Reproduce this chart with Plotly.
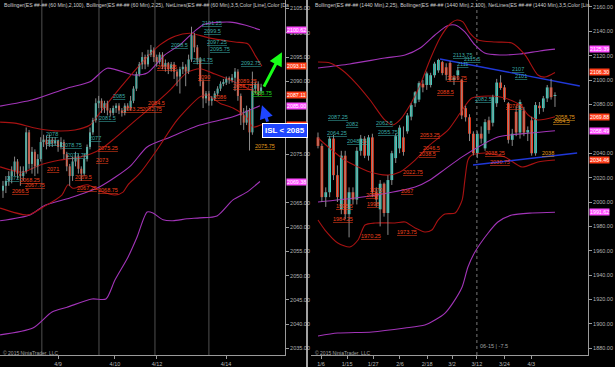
import plotly.graph_objects as go

# ---------------- LEFT PANEL: ES 60 min ----------------
L_open = [2067.5, 2068.5, 2069.5, 2070.5, 2071.5, 2073.5, 2071.0, 2070.5, 2071.5, 2079.5,
          2073.0, 2075.5, 2072.5, 2074.0, 2077.5, 2078.0, 2077.0, 2078.0, 2077.25, 2077.75,
          2076.5, 2077.5, 2075.0, 2072.5, 2070.5, 2073.5, 2074.5, 2072.0, 2071.0, 2074.0,
          2076.5, 2079.5, 2082.0, 2085.5, 2086.0, 2084.5, 2085.5, 2084.0, 2083.5, 2084.5,
          2085.0, 2084.0, 2083.5, 2085.0, 2084.5, 2086.0, 2088.5, 2091.5, 2093.5, 2095.0,
          2093.5, 2095.5, 2096.5, 2095.0, 2094.0, 2095.5, 2093.0, 2093.75, 2092.5, 2093.5,
          2092.0, 2091.0, 2092.5, 2093.0, 2092.0, 2094.5, 2099.5, 2097.0, 2094.5, 2090.0,
          2086.5, 2087.5, 2086.0, 2086.5, 2087.5, 2088.5, 2089.5, 2089.75, 2090.5, 2090.25,
          2090.75, 2092.0, 2087.0, 2083.0, 2081.5, 2084.0, 2079.5, 2088.5, 2089.5, 2088.0]
L_high = [2069.5, 2070.5, 2071.5, 2072.5, 2074.5, 2074.0, 2072.5, 2072.5, 2080.5, 2080.0,
          2076.5, 2076.0, 2075.0, 2078.5, 2079.0, 2078.75, 2079.0, 2078.5, 2078.5, 2078.0,
          2078.5, 2078.0, 2075.5, 2073.0, 2074.5, 2075.5, 2075.0, 2072.5, 2075.0, 2077.0,
          2080.5, 2082.5, 2086.5, 2087.0, 2086.5, 2086.0, 2086.0, 2084.5, 2085.0, 2085.5,
          2085.5, 2084.5, 2085.5, 2085.5, 2087.0, 2089.0, 2092.0, 2094.0, 2096.0, 2095.5,
          2096.5, 2097.5, 2097.0, 2095.5, 2096.0, 2096.0, 2094.5, 2094.0, 2094.0, 2094.0,
          2092.5, 2093.0, 2094.0, 2093.5, 2095.5, 2101.25, 2100.0, 2097.5, 2095.0, 2090.5,
          2088.0, 2088.0, 2087.0, 2088.0, 2089.0, 2090.0, 2090.5, 2091.0, 2091.0, 2091.5,
          2092.75, 2092.5, 2087.5, 2084.5, 2085.0, 2084.5, 2092.0, 2090.0, 2090.0, 2089.5]
L_low = [2066.0, 2067.0, 2068.5, 2069.0, 2070.5, 2070.0, 2068.5, 2069.5, 2071.0, 2072.0,
         2071.0, 2070.5, 2071.0, 2073.5, 2076.5, 2076.0, 2076.5, 2076.5, 2076.75, 2075.5,
         2076.0, 2074.0, 2071.5, 2068.5, 2069.5, 2072.5, 2071.0, 2069.5, 2070.5, 2073.5,
         2076.0, 2079.0, 2081.5, 2084.5, 2083.5, 2083.5, 2083.0, 2082.75, 2083.0, 2083.5,
         2083.25, 2082.75, 2083.0, 2084.0, 2084.0, 2085.5, 2088.0, 2091.0, 2092.5, 2092.5,
         2093.0, 2095.0, 2094.0, 2093.0, 2093.5, 2092.5, 2092.0, 2091.5, 2092.0, 2090.5,
         2089.0, 2087.5, 2091.5, 2089.0, 2091.5, 2094.0, 2096.0, 2093.5, 2089.0, 2084.5,
         2085.5, 2085.0, 2085.0, 2086.0, 2087.0, 2088.0, 2089.0, 2089.25, 2089.5, 2089.75,
         2088.0, 2086.0, 2081.0, 2080.0, 2081.0, 2075.75, 2079.0, 2087.5, 2087.0, 2087.5]
L_close = [2068.5, 2069.5, 2070.5, 2071.5, 2073.5, 2071.0, 2070.5, 2071.5, 2079.5, 2073.0,
           2075.5, 2072.5, 2074.0, 2077.5, 2078.0, 2077.0, 2078.0, 2077.25, 2077.75, 2076.5,
           2077.5, 2075.0, 2072.5, 2070.5, 2073.5, 2074.5, 2072.0, 2071.0, 2074.0, 2076.5,
           2079.5, 2082.0, 2085.5, 2086.0, 2084.5, 2085.5, 2084.0, 2083.5, 2084.5, 2085.0,
           2084.0, 2083.5, 2085.0, 2084.5, 2086.0, 2088.5, 2091.5, 2093.5, 2095.0, 2093.5,
           2095.5, 2096.5, 2095.0, 2094.0, 2095.5, 2093.0, 2093.75, 2092.5, 2093.5, 2092.0,
           2091.0, 2092.5, 2093.0, 2092.0, 2094.5, 2099.5, 2097.0, 2094.5, 2090.0, 2086.5,
           2087.5, 2086.0, 2086.5, 2087.5, 2088.5, 2089.5, 2089.75, 2090.5, 2090.25, 2090.75,
           2092.0, 2087.0, 2083.0, 2081.5, 2084.0, 2079.5, 2088.5, 2089.5, 2088.0, 2088.75]

L_tick_pos = [19, 38.6, 53.1, 76.9]
L_tick_text = ["4/9", "4/10", "4/12", "4/14"]
L_session_lines = [13.4, 33.1, 52.4, 71.0]
# tick levels whose labels are not hidden behind the price tags / ISL box
L_yticks = [2035, 2040, 2045, 2050, 2055, 2060, 2065, 2075, 2090, 2095, 2100, 2105]

# Bollinger (2,100) - purple
L_p_up_x = [-1, 10.3, 22.1, 30, 35.9, 45.2, 49.7, 55.9, 61, 66.2, 69.7, 78.3, 83.4, 88.6]
L_p_up_y = [2084.9, 2086.2, 2088.6, 2089.9, 2092.7, 2091.3, 2091.7, 2095.5, 2097.5, 2100.4, 2101.8, 2102.2, 2101.6, 2100.62]
L_p_mid_x = [-1, 9.3, 14.5, 23.1, 33.4, 43.8, 49.7, 57.6, 67.9, 79.3, 88.6]
L_p_mid_y = [2061.3, 2062.5, 2064.5, 2066.0, 2068.3, 2072.5, 2076.5, 2078.5, 2081.0, 2082.7, 2085.0]
L_p_lo_x = [-1, 10.3, 16.9, 22.1, 30.7, 35.5, 38.6, 43.1, 46.2, 49.7, 51.7, 55.2, 58.6, 63.4, 67.9, 73.8, 79.3, 84.1, 88.6]
L_p_lo_y = [2037.8, 2039.2, 2042.5, 2043.5, 2045.2, 2045.2, 2049.1, 2053.8, 2057.9, 2063.1, 2062.9, 2061.5, 2061.3, 2061.7, 2061.9, 2062.3, 2065.6, 2067.2, 2069.38]
# Bollinger (2,25) - dark red
L_r_up_x = [-1, 4.1, 11, 17.9, 24.8, 30, 33.4, 40.3, 47.2, 54.1, 59.3, 64.5, 71.4, 80, 84.5, 86.9, 89.3]
L_r_up_y = [2081.6, 2081.4, 2080.4, 2079.8, 2080.0, 2081.0, 2083.5, 2088.6, 2093.4, 2097.5, 2099.3, 2099.9, 2098.9, 2098.1, 2097.7, 2095.4, 2093.11]
L_r_mid_x = [-1, 6.9, 12.8, 19.7, 26.6, 33.4, 38.6, 43.8, 50.7, 57.6, 63.4, 67.9, 73.1, 79.3, 85.2, 89.3]
L_r_mid_y = [2072.4, 2071.3, 2072.8, 2073.8, 2074.4, 2075.9, 2078.3, 2081.0, 2084.5, 2088.2, 2091.8, 2092.6, 2091.5, 2090.0, 2088.3, 2087.11]
L_r_lo_x = [-1, 8.6, 13.8, 20.3, 22.4, 24.1, 29, 34.5, 38.6, 41.4, 43.1, 47.2, 53.1, 60, 67.9, 70.3, 74.8, 79.3, 84.1, 86.2, 89.3]
L_r_lo_y = [2063.9, 2062.5, 2064.1, 2066.6, 2068.7, 2068.0, 2068.7, 2067.2, 2066.6, 2067.2, 2068.7, 2071.1, 2075.9, 2082.0, 2086.8, 2087.2, 2085.5, 2084.5, 2082.5, 2080.6, 2081.11]

L_lbl_text = ["2101.25", "2099.5", "2097.25", "2095.75", "2098.5", "2094.75", "2092.75", "2085", "2081.5",
              "2078", "2077", "2078.75", "2077.75", "2077", "2072",
              "2088.75",
              "2093.25", "2090", "2089.25", "2088.75", "2086", "2084.5", "2083.25", "2082.75", "2075.25",
              "2073", "2071", "2069.5", "2068.25", "2067.75", "2066.5", "2067.25", "2068.75",
              "2075.75"]
L_lbl_x = [72.1, 72.4, 73.8, 74.8, 61.0, 69.0, 85.5, 40.0, 35.9, 16.9, 17.2, 23.8, 25.5, 31.7, 3.4,
           89.3,
           56.6, 69.3, 84.1, 82.8, 74.8, 53.1, 44.8, 51.3, 36.2, 34.1, 17.2, 27.6, 9.3, 11.0, 5.9, 29.0, 36.2,
           90.3]
L_lbl_y = [2102.0, 2100.4, 2098.1, 2096.7, 2097.5, 2094.4, 2093.8, 2087.0, 2082.5, 2079.1, 2077.6, 2076.9, 2074.8, 2078.3, 2070.1,
           2087.6,
           2093.0, 2090.9, 2090.1, 2089.0, 2086.8, 2085.5, 2084.3, 2084.3, 2076.3, 2073.8, 2072.0, 2070.3, 2069.7, 2068.7, 2067.4, 2068.0, 2067.6,
           2076.7]
L_lbl_kind = ["c"] * 15 + ["g"] + ["r"] * 17 + ["o"]

L_tag_vals = [2100.62, 2093.11, 2087.11, 2085.00, 2081.11, 2069.38]
L_tag_kind = ["m", "r", "r", "m", "r", "m"]

ISL_LEVEL = 2085
TARGET_HEAD = (96.2, 2096.0)
TARGET_TAIL = (89.7, 2088.6)
ISL_HEAD = (89.3, 2085.1)
ISL_TAIL = (91.4, 2081.4)

L_title = "Bollinger(ES ##-## (60 Min),2,100), Bollinger(ES ##-## (60 Min),2,25), NetLines(ES ##-## (60 Min),3,5,Color [Line],Color [Da"
R_title = "Bollinger(ES ##-## (1440 Min),2,25), Bollinger(ES ##-## (1440 Min),2,100), NetLines(ES ##-## (1440 Min),3,5,Color [Lin"

# ---------------- RIGHT PANEL: ES daily ----------------
R_open = [2053, 2046, 2004, 2008, 2052, 2022, 1994, 2038, 1990, 2008, 2002, 2042, 2052, 2038, 2053, 2008,
          1994, 2015, 1991, 2018, 2036, 2044, 2053, 2058, 2070, 2081, 2084, 2097, 2096, 2096, 2104, 2108,
          2114.75, 2110.5, 2114, 2100, 2104, 2100, 2077, 2069.5, 2056, 2040, 2056, 2044, 2067, 2065, 2081,
          2098, 2094, 2081, 2051, 2074, 2057, 2075, 2057, 2067, 2040, 2079, 2077, 2085, 2094, 2087]
R_high = [2057, 2048, 2012, 2054, 2055, 2030, 2042, 2042, 2012, 2012, 2045, 2055, 2054, 2055, 2056, 2012,
          2018, 2016, 2022, 2042, 2056, 2063, 2062, 2073, 2081, 2091, 2099, 2100, 2107, 2106, 2115, 2117.5,
          2115.75, 2113.75, 2115.5, 2104, 2111, 2101, 2079, 2072, 2058, 2058, 2062, 2068, 2070, 2088, 2101,
          2104, 2096, 2082, 2060, 2078.5, 2084, 2078, 2062, 2070, 2082, 2082, 2087, 2096, 2101, 2090]
R_low = [2044, 2000, 1996, 2004, 2018, 2000, 1990, 1986, 1971, 1998, 1998, 2038, 2036, 2034, 2004, 1996,
         1980, 1988, 1973, 2014, 2032, 2040, 2038, 2056, 2067, 2078, 2082, 2090, 2092, 2094, 2102, 2106,
         2104, 2099.75, 2099, 2096, 2100, 2068, 2066, 2050, 2038.25, 2036, 2048, 2042, 2056, 2062, 2078,
         2092, 2082, 2048, 2046, 2054, 2052, 2054, 2050, 2038, 2038, 2072, 2074, 2082, 2084, 2078]
R_close = [2046, 2004, 2008, 2052, 2022, 2004, 2038, 1990, 2008, 2002, 2042, 2052, 2038, 2053, 2008, 2002,
           2015, 1991, 2018, 2040, 2054, 2061, 2041, 2071, 2079.5, 2090, 2097.5, 2094, 2105.5, 2104, 2113.5,
           2116.5, 2105.75, 2104.25, 2100, 2102, 2108, 2071, 2069.5, 2056, 2040, 2056, 2052, 2065.5, 2059,
           2086, 2098, 2093.5, 2084, 2051, 2056, 2057, 2082, 2057, 2059, 2040, 2079.5, 2077, 2085, 2094,
           2086, 2087.5]

R_tick_pos = [0.8, 7.5, 14.2, 21.1, 28.1, 34.5, 40.9, 48.0, 54.9]
R_tick_text = ["1/6", "1/15", "1/27", "2/6", "2/18", "3/2", "3/12", "3/24", "4/3"]
R_rollover = 40.9
R_yticks = [1880, 1900, 1920, 1940, 1960, 1980, 2000, 2020, 2040, 2080, 2100, 2120, 2140, 2160]

R_p_up_x = [0, 8.2, 17.2, 22.4, 26.3, 30.1, 33.2, 35.3, 37.8, 40.4, 42.9, 46.8, 51.9, 57.1, 61.0]
R_p_up_y = [2109.9, 2113.2, 2118.1, 2120.6, 2126.3, 2137.0, 2144.4, 2145.2, 2139.5, 2128.8, 2122.2, 2120.6, 2121.4, 2123.9, 2125.39]
R_p_mid_x = [0, 9.5, 18, 25, 28.8, 32.7, 37.1, 41.7, 46.3, 54.6, 61]
R_p_mid_y = [2000.0, 2003.3, 2007.4, 2012.3, 2018.1, 2027.0, 2037.0, 2046.0, 2053.3, 2056.6, 2058.49]
R_p_lo_x = [0, 5.1, 13.9, 22.4, 27.5, 30.1, 32.7, 34.7, 37.1, 38.6, 40.4, 43.8, 46.3, 49.9, 55.1, 61]
R_p_lo_y = [1890.1, 1892.5, 1893.4, 1896.6, 1899.1, 1903.2, 1908.9, 1917.1, 1930.3, 1946.7, 1959.0, 1974.6, 1983.6, 1989.3, 1991.0, 1991.62]
R_r_up_x = [0, 3.1, 6.2, 9.5, 13.4, 17.2, 19.3, 21.1, 23.7, 26.3, 28.8, 31.4, 34.0, 35.8, 37.3, 39.1, 41.2, 45.6, 49.9, 53.3, 56.6, 58.4, 61]
R_r_up_y = [2114.8, 2114.0, 2108.3, 2098.4, 2083.7, 2067.3, 2063.2, 2067.3, 2079.6, 2096.0, 2116.5, 2134.5, 2146.0, 2149.3, 2147.7, 2138.6, 2132.9, 2131.2, 2130.4, 2120.6, 2104.2, 2102.5, 2106.3]
R_r_mid_x = [0, 6.9, 13.4, 18, 21.1, 25, 28.8, 33.5, 36.6, 39.6, 44.3, 48.1, 52, 54.1, 56.6, 61]
R_r_mid_y = [2052.5, 2034.4, 2024.6, 2022.1, 2024.6, 2034.4, 2046.8, 2059.1, 2073.0, 2085.3, 2087.0, 2085.3, 2079.6, 2071.4, 2067.3, 2069.88]
R_r_lo_x = [0, 1.8, 5.1, 8.2, 10.3, 12.1, 14.7, 19.8, 22.4, 25, 27.5, 29.3, 30.9, 32.7, 35.3, 37.1, 37.8, 38.6, 39.6, 43, 48.1, 52.5, 56.6, 61]
R_r_lo_y = [1985.2, 1977.0, 1966.4, 1963.1, 1968.8, 1981.1, 1982.8, 1982.8, 1983.6, 1978.7, 1975.4, 1977.0, 1985.2, 1990.2, 1991.0, 2001.6, 2018.0, 2034.4, 2038.5, 2040.2, 2036.9, 2028.7, 2032.8, 2034.46]

R_trend_hi_x = [31.4, 67.4]
R_trend_hi_y = [2117.3, 2095.2]
R_trend_lo_x = [39.9, 66.7]
R_trend_lo_y = [2030.4, 2040.2]

R_lbl_text = ["2113.75", "2115.5", "2111", "2107", "2101", "2087.25", "2082", "2064.25", "2048.25", "2062.5", "2055.75", "2082.5",
              "2099.75", "2088.5", "2078.5", "2053.25", "2046.5", "2038.5", "2038.25", "2030.75", "2022.75", "2067", "2064",
              "2070", "1995.5", "1998", "1984.25", "1970.25", "1973.75",
              "2058.75", "2064.5", "2038"]
R_lbl_x = [37.1, 39.6, 37.3, 51.5, 52.3, 5.1, 8.8, 4.9, 10.0, 17.2, 18.0, 42.5,
           35.8, 32.7, 50.7, 28.8, 29.3, 28.3, 45.6, 46.8, 24.5, 22.9, 13.9, 14.9, 6.9, 14.2, 6.4, 13.6, 22.9,
           63.6, 62.8, 59.2]
R_lbl_y = [2120.6, 2117.3, 2113.2, 2109.1, 2103.4, 2069.7, 2064.0, 2056.6, 2050.0, 2064.8, 2057.4, 2084.5,
           2101.7, 2090.2, 2078.7, 2055.0, 2044.3, 2039.4, 2040.2, 2032.8, 2024.6, 2009.0, 2005.7, 2009.8, 1996.7,
           1998.4, 1986.1, 1972.1, 1975.4,
           2069.7, 2066.4, 2040.2]
R_lbl_kind = ["c"] * 12 + ["r"] * 17 + ["o"] * 3

R_tag_vals = [2125.39, 2106.30, 2069.88, 2058.49, 2034.46, 1991.62]
R_tag_kind = ["m", "r", "r", "m", "r", "m"]

# ---------------- styling ----------------
UP = "#35d8c6"
DOWN = "#ff3d1c"
WICK = "#8a8a8a"
PURPLE = "#a234b8"
DKRED = "#a81212"
BLUE = "#2038d8"
AXIS = "#9a9a9a"
TXT = "#b4b4b4"
FONT = "Liberation Sans, Arial, sans-serif"
LBL_COL = {"c": "#3aa9a6", "r": "#f0401c", "o": "#e09a1c", "g": "#22e022"}
TAG_COL = {"m": "#ff4cff", "r": "#ff3c18"}

L_DOM = [0.0, 285 / 615]
R_DOM = [311 / 615, 588 / 615]
Y_DOM = [12 / 367, 1.0]

fig = go.Figure()


def add_candles(o, h, l, c, xa, ya):
    idx = list(range(len(c)))
    wx, wy = [], []
    for i, (hi, lo) in enumerate(zip(h, l)):
        wx += [i, i, None]
        wy += [lo, hi, None]
    fig.add_trace(go.Scatter(x=wx, y=wy, mode="lines", line=dict(color=WICK, width=1),
                             xaxis=xa, yaxis=ya, hoverinfo="skip"))
    fig.add_trace(go.Bar(x=idx, y=[cc - oo for oo, cc in zip(o, c)], base=o, width=0.7,
                         marker=dict(color=[UP if cc >= oo else DOWN for oo, cc in zip(o, c)], line=dict(width=0)),
                         xaxis=xa, yaxis=ya, hoverinfo="skip"))


def add_line(x, y, color, xa, ya, width=1.1, shape="spline"):
    fig.add_trace(go.Scatter(x=x, y=y, mode="lines", line=dict(color=color, width=width, shape=shape, smoothing=0.7),
                             xaxis=xa, yaxis=ya, hoverinfo="skip"))


# left panel
for gx in L_session_lines:
    fig.add_shape(type="line", xref="x", yref="paper", x0=gx, x1=gx, y0=Y_DOM[0], y1=1,
                  line=dict(color="#505050", width=1), layer="below")
add_line(L_p_up_x, L_p_up_y, PURPLE, "x", "y")
add_line(L_p_mid_x, L_p_mid_y, PURPLE, "x", "y")
add_line(L_p_lo_x, L_p_lo_y, PURPLE, "x", "y")
add_line(L_r_up_x, L_r_up_y, DKRED, "x", "y")
add_line(L_r_mid_x, L_r_mid_y, DKRED, "x", "y")
add_line(L_r_lo_x, L_r_lo_y, DKRED, "x", "y")
add_candles(L_open, L_high, L_low, L_close, "x", "y")

# right panel
fig.add_shape(type="line", xref="x2", yref="paper", x0=R_rollover, x1=R_rollover, y0=Y_DOM[0], y1=1,
              line=dict(color="#777777", width=1, dash="dot"), layer="below")
add_line(R_p_up_x, R_p_up_y, PURPLE, "x2", "y2")
add_line(R_p_mid_x, R_p_mid_y, PURPLE, "x2", "y2")
add_line(R_p_lo_x, R_p_lo_y, PURPLE, "x2", "y2")
add_line(R_r_up_x, R_r_up_y, DKRED, "x2", "y2")
add_line(R_r_mid_x, R_r_mid_y, DKRED, "x2", "y2")
add_line(R_r_lo_x, R_r_lo_y, DKRED, "x2", "y2")
add_line(R_trend_hi_x, R_trend_hi_y, BLUE, "x2", "y2", width=1.4, shape="linear")
add_line(R_trend_lo_x, R_trend_lo_y, BLUE, "x2", "y2", width=1.4, shape="linear")
add_candles(R_open, R_high, R_low, R_close, "x2", "y2")


# NetLines labels
def add_labels(texts, xs, ys, kinds, xr, yr):
    for t, x, y, k in zip(texts, xs, ys, kinds):
        fig.add_annotation(x=x, y=y, xref=xr, yref=yr, showarrow=False,
                           text='<span style="text-decoration:underline dotted">' + t + '</span>',
                           font=dict(size=5.5, color=LBL_COL[k], family=FONT),
                           xanchor="center", yanchor="middle")


add_labels(L_lbl_text, L_lbl_x, L_lbl_y, L_lbl_kind, "x", "y")
add_labels(R_lbl_text, R_lbl_x, R_lbl_y, R_lbl_kind, "x2", "y2")


# price tags on axes
def add_tags(vals, kinds, xpaper, yr):
    for v, k in zip(vals, kinds):
        fig.add_annotation(x=xpaper, y=v, xref="paper", yref=yr, showarrow=False,
                           text=f"{v:.2f}", font=dict(size=5.3, color="white", family=FONT),
                           bgcolor=TAG_COL[k], borderpad=0, xanchor="left", yanchor="middle")


add_tags(L_tag_vals, L_tag_kind, L_DOM[1] + 0.002, "y")
add_tags(R_tag_vals, R_tag_kind, R_DOM[1] + 0.002, "y2")

# arrows and ISL box
fig.add_annotation(x=TARGET_HEAD[0], y=TARGET_HEAD[1], ax=TARGET_TAIL[0], ay=TARGET_TAIL[1],
                   xref="x", yref="y", axref="x", ayref="y", text="", showarrow=True,
                   arrowcolor="#19ff19", arrowwidth=3, arrowhead=2, arrowsize=0.9)
fig.add_annotation(x=ISL_HEAD[0], y=ISL_HEAD[1], ax=ISL_TAIL[0], ay=ISL_TAIL[1],
                   xref="x", yref="y", axref="x", ayref="y", text="", showarrow=True,
                   arrowcolor="#1f46ff", arrowwidth=3, arrowhead=2, arrowsize=0.9)
fig.add_annotation(x=285 / 615, y=1 - 130 / 367, xref="paper", yref="paper", showarrow=False,
                   text=f"<b>ISL &lt; {ISL_LEVEL}</b>", font=dict(size=8, color="white", family=FONT),
                   bgcolor="#1f46ff", bordercolor="white", borderwidth=1, borderpad=2,
                   xanchor="center", yanchor="middle")

# header texts (as truncated in the original window)
fig.add_annotation(x=2 / 615, y=1.0, xref="paper", yref="paper", showarrow=False, xanchor="left", yanchor="top",
                   align="left", text=L_title, font=dict(size=5.15, color="#cfcfcf", family=FONT))
fig.add_annotation(x=313 / 615, y=1.0, xref="paper", yref="paper", showarrow=False, xanchor="left", yanchor="top",
                   align="left", text=R_title, font=dict(size=5.15, color="#cfcfcf", family=FONT))
for xp in [1 / 615, 313 / 615]:
    fig.add_annotation(x=xp, y=1 - 353 / 367, xref="paper", yref="paper", showarrow=False,
                       xanchor="left", yanchor="middle", text="© 2015 NinjaTrader, LLC",
                       font=dict(size=5, color="#a0a0a0", family=FONT))
fig.add_annotation(x=478 / 615, y=1 - 346 / 367, xref="paper", yref="paper", showarrow=False,
                   xanchor="left", yanchor="middle", text="06-15 | -7.5",
                   font=dict(size=5.5, color="#a0a0a0", family=FONT))

# panel separator
fig.add_shape(type="line", xref="paper", yref="paper", x0=307 / 615, x1=307 / 615, y0=0, y1=1,
              line=dict(color="#d8d8d8", width=1.5))

axis_common = dict(showgrid=False, zeroline=False, showline=True, linecolor=AXIS, linewidth=1,
                   ticks="outside", ticklen=3, tickcolor=AXIS,
                   tickfont=dict(size=5.5, color=TXT, family=FONT))

fig.update_layout(
    width=615, height=367, margin=dict(l=0, r=0, t=0, b=0),
    paper_bgcolor="black", plot_bgcolor="black", showlegend=False,
    barmode="overlay",
    xaxis=dict(domain=L_DOM, range=[-1.03, 97.24], tickvals=L_tick_pos, ticktext=L_tick_text,
               anchor="y", **axis_common),
    yaxis=dict(domain=Y_DOM, range=[2033.66, 2106.75], side="right", anchor="x",
               tickvals=L_yticks, tickformat=".2f", **axis_common),
    xaxis2=dict(domain=R_DOM, range=[-1.8, 69.5], tickvals=R_tick_pos, ticktext=R_tick_text,
                anchor="y2", **axis_common),
    yaxis2=dict(domain=Y_DOM, range=[1874.5, 2165.7], side="right", anchor="x2",
                tickvals=R_yticks, tickformat=".2f", **axis_common),
)

fig.write_html("out.html")
